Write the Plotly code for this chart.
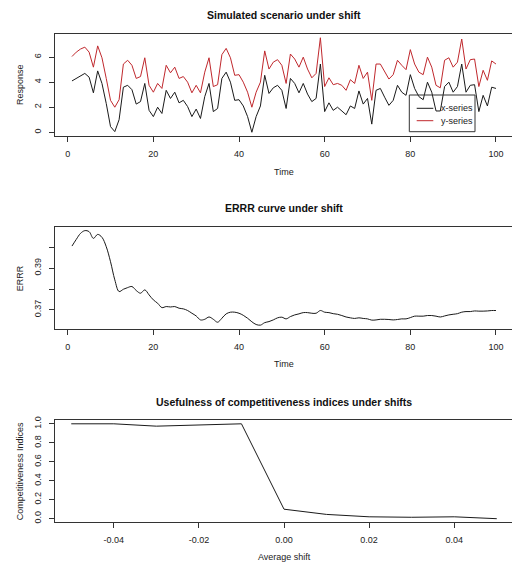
import plotly.graph_objects as go

# ---------------- data ----------------
time = list(range(1, 101))

x_series = [4.1, 4.3, 4.55, 4.7, 4.4, 3.15, 4.9, 3.9, 2.3, 0.45,
            0.05, 1.0, 3.6, 3.75, 3.4, 2.25, 2.45, 3.9, 1.75, 1.25,
            2.0, 1.5, 3.35, 2.7, 3.2, 2.35, 2.55, 2.05, 1.25, 1.85,
            1.1, 2.85, 3.9, 1.65, 1.9, 4.3, 4.8, 4.0, 2.55, 2.6,
            2.1, 1.25, 0.0, 1.25, 2.1, 4.55, 3.1, 3.55, 3.75, 3.35,
            1.9, 4.3, 3.9, 3.15, 3.9, 3.05, 2.45, 2.7, 5.45, 1.65,
            2.35, 1.75, 2.0, 1.7, 1.4, 2.1, 1.9, 3.3, 2.25, 2.7,
            0.65, 3.35, 3.5, 2.8, 2.15, 2.55, 3.75, 3.2, 2.95, 4.6,
            3.5, 2.85, 2.6, 4.0, 3.2, 1.7, 1.7, 3.65, 4.0, 3.2,
            3.65, 5.45, 3.2, 3.75, 3.8, 1.65, 2.95, 2.1, 3.6, 3.5]

y_series = [6.05, 6.4, 6.65, 6.8, 6.4, 5.2, 6.9, 5.95, 4.3, 2.55,
            2.0, 2.6, 5.45, 5.75, 5.35, 4.3, 4.45, 5.95, 3.75, 3.2,
            3.9, 3.5, 5.35, 4.75, 5.2, 4.3, 4.45, 4.0, 3.15, 3.75,
            3.15, 4.8, 5.95, 3.65, 3.8, 6.2, 6.7, 5.95, 4.55, 4.6,
            4.0, 3.2, 2.0, 3.2, 4.0, 6.5, 5.05, 5.6, 5.8, 5.35,
            3.9, 6.25, 5.85, 5.2, 6.0, 5.05, 4.35, 4.7, 7.55, 3.65,
            4.35, 3.8, 3.9, 3.75, 3.35, 4.2, 3.9, 5.35, 4.3, 4.8,
            2.55, 5.45, 5.45, 4.8, 4.25, 4.6, 5.75, 5.35, 5.0, 6.6,
            5.45, 4.8, 4.6, 6.0, 5.2, 3.75, 3.55, 5.75, 5.95, 5.2,
            5.6, 7.45, 5.05, 5.8, 5.85, 3.65, 4.95, 4.15, 5.7, 5.45]

errr = [0.4006, 0.4038, 0.4067, 0.4080, 0.4075, 0.4043, 0.4062, 0.4048, 0.4003, 0.3931,
        0.3844, 0.3788, 0.3799, 0.3807, 0.3812, 0.3793, 0.3780, 0.3796, 0.3772, 0.3748,
        0.3732, 0.3711, 0.3716, 0.3714, 0.3716, 0.3708, 0.3705, 0.3697, 0.3684, 0.3671,
        0.3652, 0.3655, 0.3666, 0.3655, 0.3641, 0.3660, 0.3681, 0.3689, 0.3689, 0.3684,
        0.3674, 0.3660, 0.3643, 0.3630, 0.3627, 0.3639, 0.3644, 0.3652, 0.3662, 0.3665,
        0.3657, 0.3668, 0.3676, 0.3681, 0.3687, 0.3687, 0.3684, 0.3684, 0.3697, 0.3689,
        0.3687, 0.3682, 0.3679, 0.3673, 0.3666, 0.3662, 0.3659, 0.3662, 0.3659, 0.3657,
        0.3651, 0.3652, 0.3655, 0.3655, 0.3654, 0.3652, 0.3654, 0.3657, 0.3657, 0.3663,
        0.3670, 0.3670, 0.3670, 0.3673, 0.3673, 0.3670, 0.3666, 0.3671, 0.3676, 0.3679,
        0.3682, 0.3689, 0.3692, 0.3692, 0.3695, 0.3694, 0.3694, 0.3695, 0.3697, 0.3697]

avg_shift = [-0.05, -0.04, -0.03, -0.02, -0.01, 0.00, 0.01, 0.02, 0.03, 0.04, 0.05]
comp_idx = [1.0, 1.0, 0.975, 0.99, 1.0, 0.10, 0.045, 0.02, 0.015, 0.02, 0.0]

titles = ["Simulated scenario under shift", "ERRR curve under shift",
          "Usefulness of competitiveness indices under shifts"]
ylabels = ["Response", "ERRR", "Competitiveness Indices"]
xlabels = ["Time", "Time", "Average shift"]
legend_labels = ["x-series", "y-series"]

# ---------------- layout helpers ----------------
W, H = 512, 562
FONT = "Liberation Sans, Arial, sans-serif"
AX = "#333333"
BLACK_LINE = "#1a1a1a"
RED_LINE = "#c0282d"


def py(p):
    return 1 - p / H


def px(p):
    return p / W


fig = go.Figure()
fig.add_trace(go.Scatter(x=time, y=x_series, mode="lines", name=legend_labels[0],
                         line=dict(color=BLACK_LINE, width=1), xaxis="x", yaxis="y"))
fig.add_trace(go.Scatter(x=time, y=y_series, mode="lines", name=legend_labels[1],
                         line=dict(color=RED_LINE, width=1), xaxis="x", yaxis="y"))
fig.add_trace(go.Scatter(x=time, y=errr, mode="lines", line=dict(color=BLACK_LINE, width=1),
                         xaxis="x2", yaxis="y2", line_shape="spline"))
fig.add_trace(go.Scatter(x=avg_shift, y=comp_idx, mode="lines", line=dict(color=BLACK_LINE, width=1),
                         xaxis="x3", yaxis="y3"))

common = dict(showgrid=False, zeroline=False, showline=True, linecolor=AX, linewidth=1,
              ticks="outside", ticklen=5, tickcolor=AX, tickwidth=1,
              tickfont=dict(family=FONT, size=9, color="#222"), automargin=False)

left = 55
xdom = [px(left), 1.0]
boxes = [(34, 136), (227.3, 329.3), (420, 522.3)]

fig.update_layout(
    width=W, height=H, margin=dict(l=0, r=0, t=0, b=0),
    paper_bgcolor="white", plot_bgcolor="white", showlegend=False,
    template="none",
    xaxis=dict(domain=xdom, range=[-2.965, 103.74], tickvals=[0, 20, 40, 60, 80, 100],
               mirror=True, anchor="y", ticklabelstandoff=4, **common),
    yaxis=dict(domain=[py(boxes[0][1]), py(boxes[0][0])], range=[-0.30, 7.85],
               tickvals=[0, 2, 4, 6], tickangle=-90, anchor="x", ticklabelstandoff=4, **common),
    xaxis2=dict(domain=xdom, range=[-2.965, 103.74], tickvals=[0, 20, 40, 60, 80, 100],
                mirror=True, anchor="y2", ticklabelstandoff=4, **common),
    yaxis2=dict(domain=[py(boxes[1][1]), py(boxes[1][0])], range=[0.3607, 0.4096],
                tickvals=[0.37, 0.38, 0.39, 0.40], ticktext=["0.37", "", "0.39", ""],
                tickangle=-90, anchor="x2", ticklabelstandoff=4, **common),
    xaxis3=dict(domain=xdom, range=[-0.05382, 0.05358],
                tickvals=[-0.04, -0.02, 0.0, 0.02, 0.04],
                ticktext=["-0.04", "-0.02", "0.00", "0.02", "0.04"],
                mirror=True, anchor="y3", ticklabelstandoff=4, **common),
    yaxis3=dict(domain=[py(boxes[2][1]), py(boxes[2][0])], range=[-0.038, 1.04],
                tickvals=[0, 0.2, 0.4, 0.6, 0.8, 1.0],
                ticktext=["0.0", "0.2", "0.4", "0.6", "0.8", "1.0"],
                tickangle=-90, anchor="x3", ticklabelstandoff=4, **common),
)

annotations = []
title_y = [15, 208, 402]
xlab_y = [172, 364, 557]
cx = 284
for i in range(3):
    annotations.append(dict(text="<b>%s</b>" % titles[i], xref="paper", yref="paper",
                            x=px(cx), y=py(title_y[i]), xanchor="center", yanchor="middle",
                            showarrow=False, font=dict(family=FONT, size=10.5, color="#111")))
    annotations.append(dict(text=xlabels[i], xref="paper", yref="paper",
                            x=px(cx), y=py(xlab_y[i]), xanchor="center", yanchor="middle",
                            showarrow=False, font=dict(family=FONT, size=9, color="#222")))
    mid = (boxes[i][0] + boxes[i][1]) / 2
    annotations.append(dict(text=ylabels[i], xref="paper", yref="paper",
                            x=px(20), y=py(mid), xanchor="center", yanchor="middle",
                            textangle=-90, showarrow=False,
                            font=dict(family=FONT, size=9, color="#222")))

# legend box (top panel)
lg_x0, lg_x1, lg_y0, lg_y1 = 409.3, 475, 95, 131.7
shapes = [dict(type="rect", xref="paper", yref="paper", x0=px(lg_x0), x1=px(lg_x1),
               y0=py(lg_y1), y1=py(lg_y0), line=dict(color=AX, width=1),
               fillcolor="rgba(0,0,0,0)")]
for j, (lab, col) in enumerate(zip(legend_labels, [BLACK_LINE, RED_LINE])):
    yy = [108.3, 120.7][j]
    shapes.append(dict(type="line", xref="paper", yref="paper", x0=px(416.7), x1=px(433.3),
                       y0=py(yy), y1=py(yy), line=dict(color=col, width=1)))
    annotations.append(dict(text=lab, xref="paper", yref="paper", x=px(438.5), y=py(yy),
                            xanchor="left", yanchor="middle", showarrow=False,
                            font=dict(family=FONT, size=9, color="#222")))

fig.update_layout(annotations=annotations, shapes=shapes)
fig.write_html("out.html", config={"displayModeBar": False},
               post_script="document.body.style.margin='0';document.body.style.overflow='hidden';")
